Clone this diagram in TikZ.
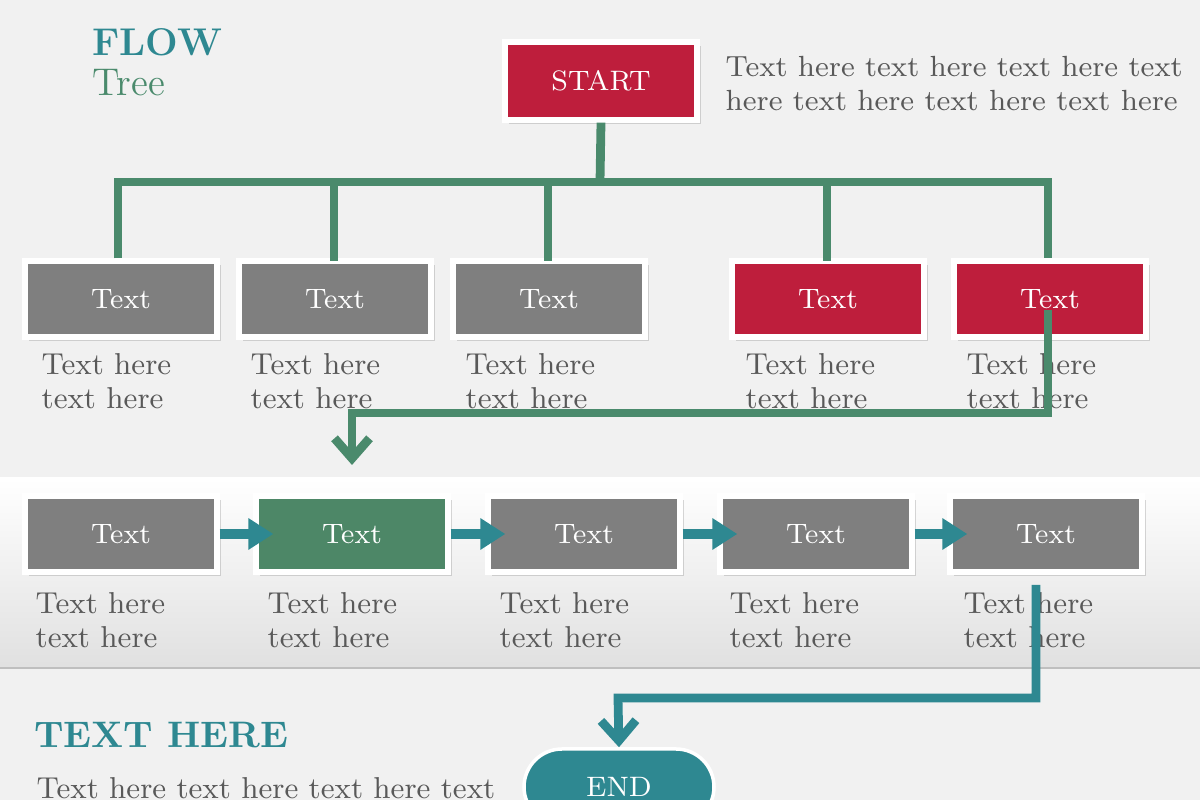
\documentclass[tikz,border=0pt]{standalone}
\usepackage{tikz}
\usetikzlibrary{shapes,shapes.misc,arrows.meta,positioning,shadows}
\definecolor{bg}{HTML}{F1F1F1}
\definecolor{boxgray}{HTML}{7F7F7F}
\definecolor{boxred}{HTML}{BE1E3C}
\definecolor{boxgreen}{HTML}{4D8767}
\definecolor{lngreen}{HTML}{4A8A6C}
\definecolor{teal}{HTML}{2E8891}
\definecolor{txt}{HTML}{595959}
\tikzstyle{bx}=[rectangle,draw=white,line width=1.5pt,minimum width=1.92cm,minimum height=.76cm,
  text=white,font=\fontsize{8}{10}\selectfont,fill=boxgray,drop shadow={opacity=.3,shadow xshift=.04cm,shadow yshift=-.04cm}]
\tikzstyle{lbl}=[anchor=north west,align=left,text=txt,font=\fontsize{8.6}{9.6}\selectfont,inner sep=0pt]
\tikzstyle{ln}=[draw=lngreen,line width=2.5pt]
\tikzstyle{tar}=[draw=teal,line width=3pt,-{Triangle[length=.25cm,width=.3cm]}]
\begin{document}
\begin{tikzpicture}
		\useasboundingbox (0,0) rectangle (12,8);
		\clip (0,0) rectangle (12,8);
		\fill[bg] (0,0) rectangle (12,8);
		\fill[top color=white,bottom color=black!12] (0,1.32) rectangle (12,3.22);
		\draw[black!25] (0,1.32) -- (12,1.32);
		% title
		\node[anchor=west,text=teal,font=\fontsize{11}{12}\selectfont\bfseries] (flow) at (.8,7.58) {FLOW};
		\node[anchor=west,text=lngreen,font=\fontsize{11}{12}\selectfont] (tree) at (.8,7.17) {Tree};
		\node[anchor=west,text=teal,font=\fontsize{10.5}{12}\selectfont\bfseries] (th) at (.22,.65) {TEXT HERE};
		\node[lbl,anchor=west] (tht) at (.36,.12) {Text here text here text here text};
		% start
		\node[bx,fill=boxred,minimum width=1.92cm,minimum height=.78cm] (start) at (6.01,7.19) {START};
		\node[lbl,font=\fontsize{8.3}{9.6}\selectfont] (desc) at (7.25,7.44) {Text here text here text here text\\here text here text here text here};
		% first row
		\node[bx] (a1) at (1.21,5.01) {Text};
		\node[bx] (a2) at (3.35,5.01) {Text};
		\node[bx] (a3) at (5.49,5.01) {Text};
		\node[bx,fill=boxred] (a4) at (8.28,5.01) {Text};
		\node[bx,fill=boxred] (a5) at (10.50,5.01) {Text};
		\foreach \n/\x in {1/.41,2/2.5,3/4.65,4/7.45,5/9.66}
			\node[lbl] (la\n) at (\x,4.47) {Text here\\text here};
		% tree lines
		\coordinate (j) at (6.0,6.18);
		\draw[ln] (start.south) -- (j);
		\draw[ln] (a1.north -| 1.18,0) |- (j) -| (a5.north -| 10.48,0);
		\foreach \x in {3.34,5.48,8.27}
			\draw[ln] (\x,5.39) -- (\x,6.18);
		% second row
		\node[bx] (b1) at (1.21,2.66) {Text};
		\node[bx,fill=boxgreen] (b2) at (3.52,2.66) {Text};
		\node[bx] (b3) at (5.84,2.66) {Text};
		\node[bx] (b4) at (8.16,2.66) {Text};
		\node[bx] (b5) at (10.46,2.66) {Text};
		\foreach \n/\x in {1/.35,2/2.67,3/4.99,4/7.29,5/9.63}
			\node[lbl] (lb\n) at (\x,2.08) {Text here\\text here};
		\foreach \a/\b in {b1/b2,b2/b3,b3/b4,b4/b5}
			\draw[tar] (\a.east) -- ([xshift=.2cm]\b.west);
		% connectors
		\coordinate (c1) at (10.48,3.87);
		\draw[ln,-{Straight Barb[length=.2cm,width=.35cm]}] (10.48,4.9) -- (c1) -| (3.52,3.35);
		\node[rounded rectangle,fill=teal,draw=white,line width=1pt,minimum width=1.9cm,minimum height=.76cm,text=white,
		  font=\fontsize{8}{10}\selectfont,inner sep=0pt] (end) at (6.19,.13) {END};
		\draw[ln,draw=teal,-{Straight Barb[length=.2cm,width=.35cm]}] (10.36,2.15) |- (6.18,1.02) -- (end.north);
\end{tikzpicture}
\end{document}
